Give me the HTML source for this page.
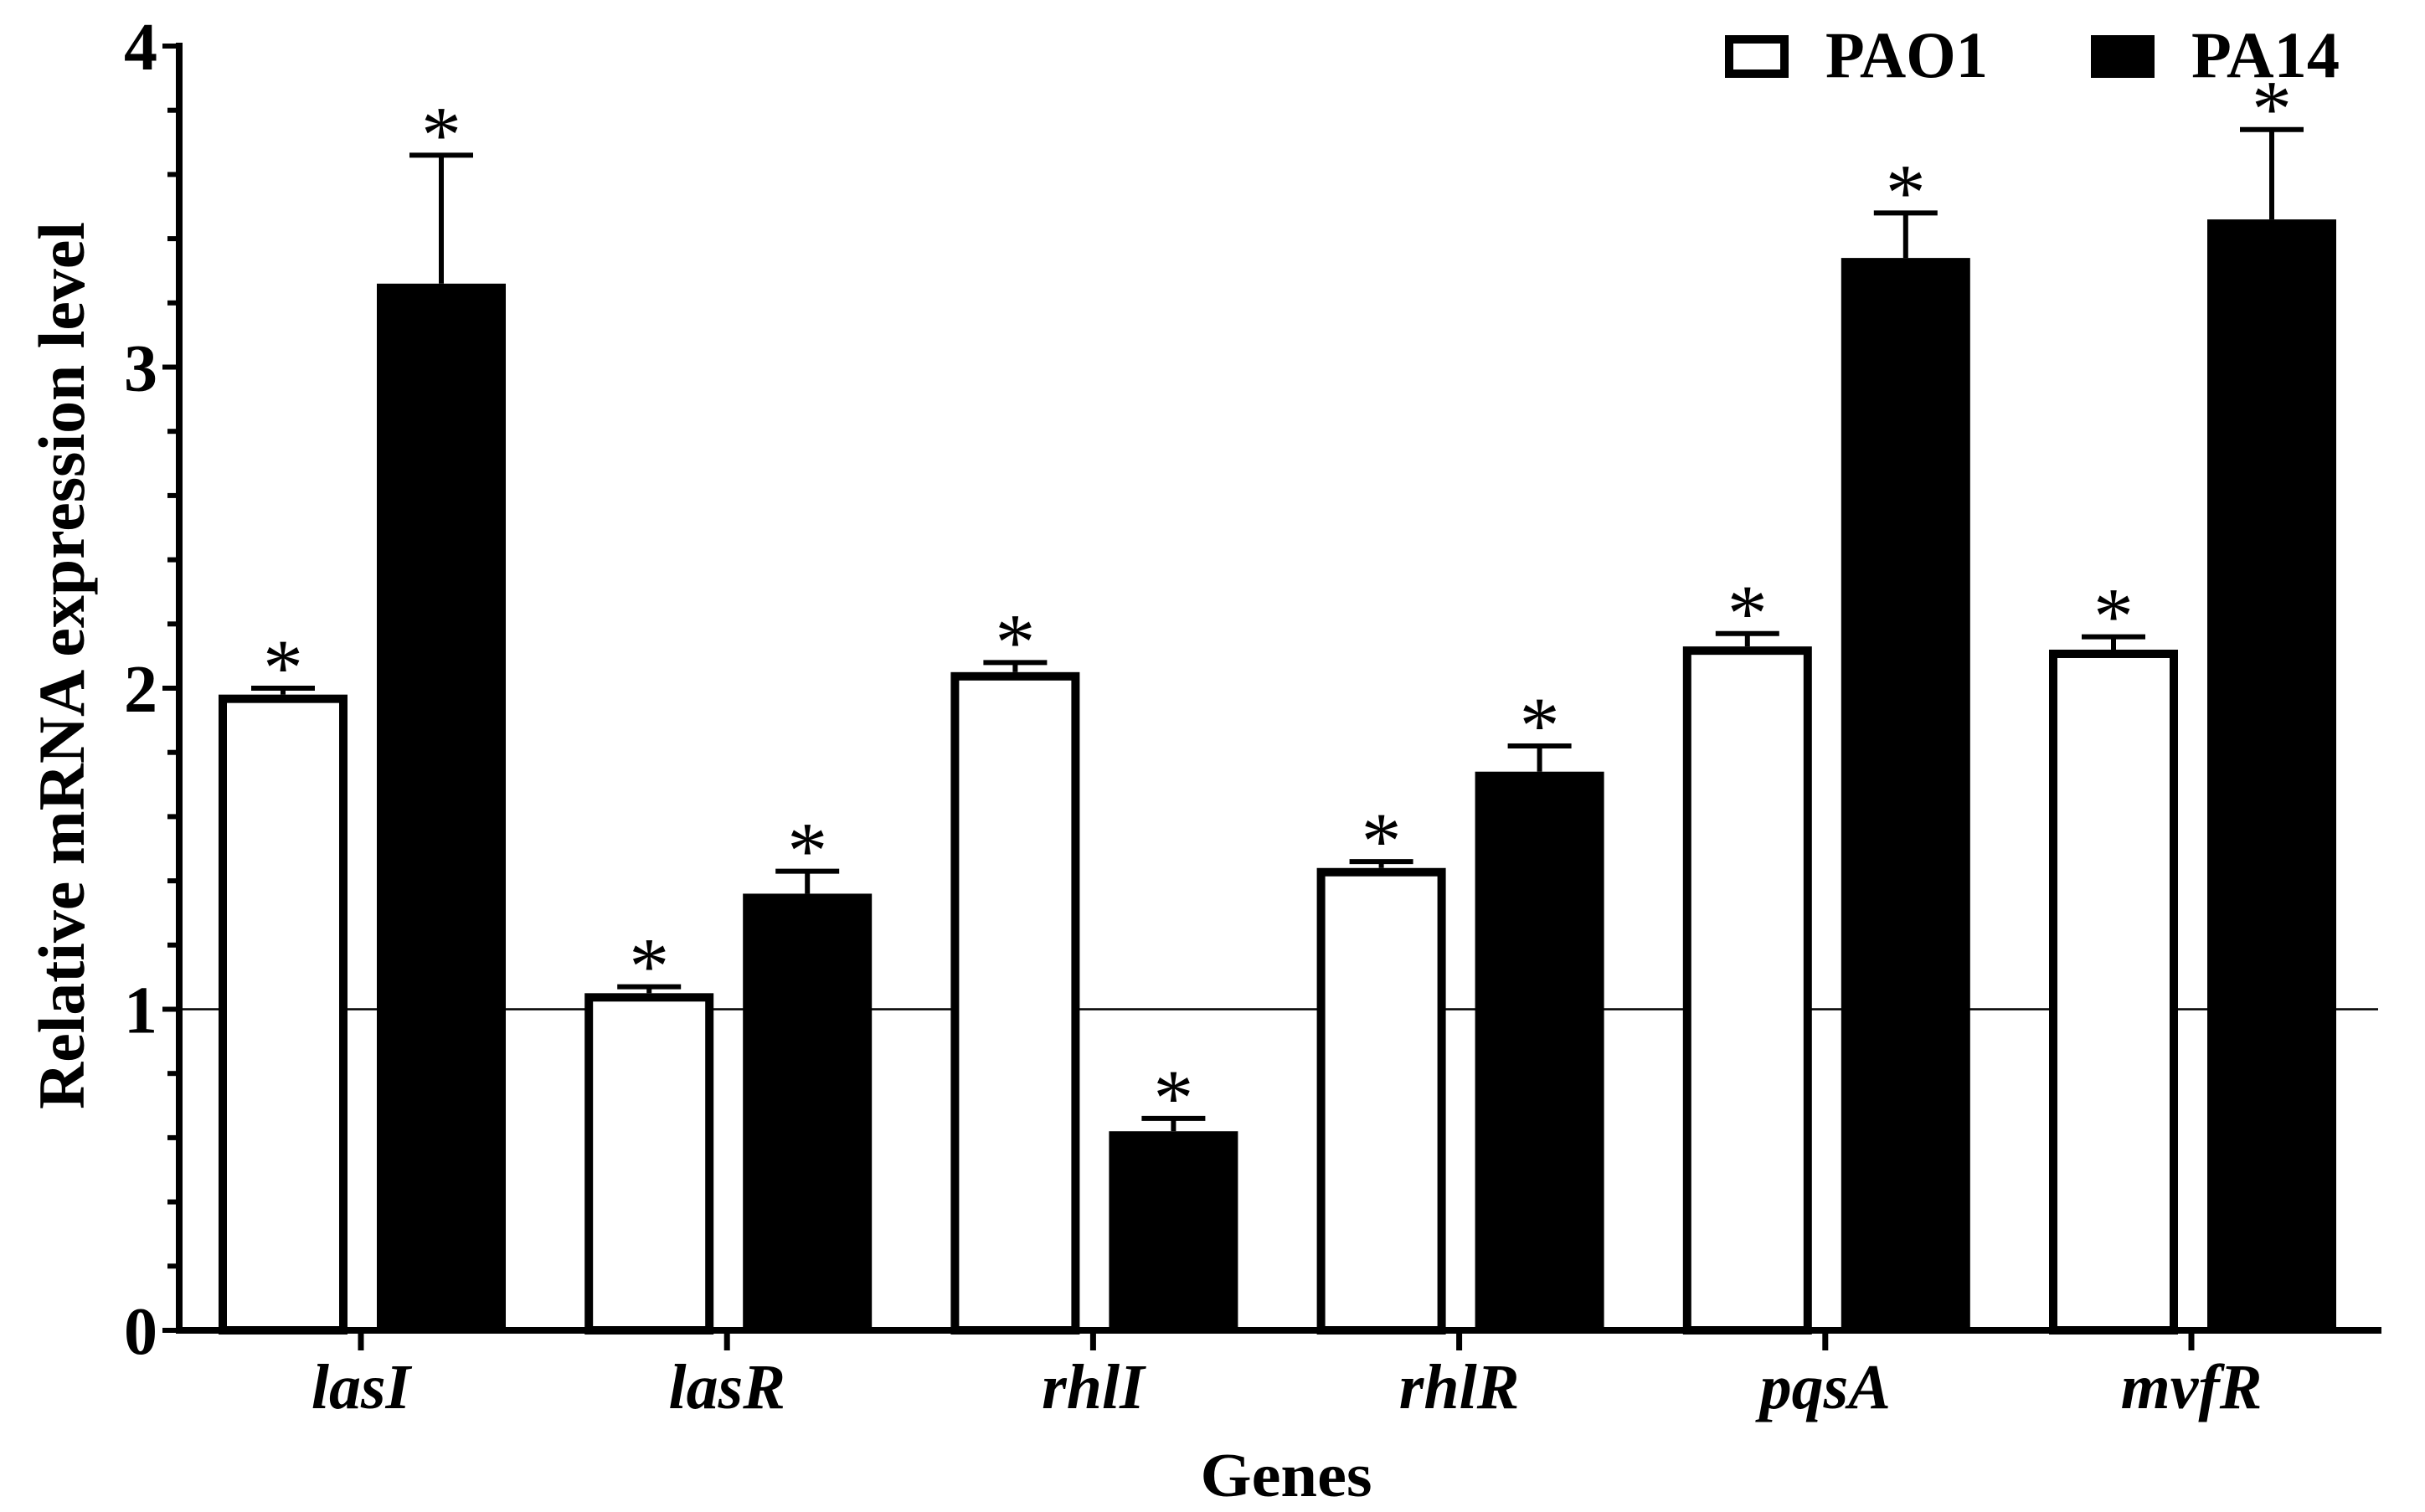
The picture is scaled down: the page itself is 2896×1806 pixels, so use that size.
<!DOCTYPE html>
<html><head><meta charset="utf-8"><style>
html,body{margin:0;padding:0;background:#fff;}
svg{display:block;font-family:"Liberation Serif",serif;font-weight:bold;}
</style></head><body>
<svg id="chart" width="2896" height="1806" viewBox="0 0 2896 1806" xmlns="http://www.w3.org/2000/svg">
<g id="plot"></g>
</svg>
<script>
const genes = ["lasI","lasR","rhlI","rhlR","pqsA","mvfR"];
const pao1 = [1.98, 1.05, 2.05, 1.44, 2.13, 2.12];
const pao1Err = [0.02, 0.02, 0.03, 0.02, 0.04, 0.04];
const pa14 = [3.26, 1.36, 0.62, 1.74, 3.34, 3.46];
const pa14Err = [0.40, 0.07, 0.04, 0.08, 0.14, 0.28];
const yTicks = ["0","1","2","3","4"];

const NS = "http://www.w3.org/2000/svg";
const g = document.getElementById("plot");
const X0 = 214, Y0 = 1589, UNIT = 383.5, SPACING = 437.2;
function yS(v){ return Y0 - v*UNIT; }
function gx(i){ return 261 + i*SPACING; }
function mk(tag, attrs, parent){
  const e = document.createElementNS(NS, tag);
  for (const k in attrs) e.setAttribute(k, attrs[k]);
  (parent||g).appendChild(e);
  return e;
}

let ref = mk("line",{x1:X0,x2:2840,y1:yS(1),y2:yS(1),stroke:"#000","stroke-width":2.5});



const BW = 154, BORDER = 10;
function drawBar(i, v, err, filled, name){
  const x = filled ? gx(i)+189 : gx(i);
  const top = yS(v);
  const erT = yS(v+err);
  const cx = x + BW/2;
  const el = mk("line",{x1:cx,x2:cx,y1:top,y2:erT,stroke:"#000","stroke-width":6});
  
  
  const cap = mk("line",{x1:cx-38,x2:cx+38,y1:erT,y2:erT,stroke:"#000","stroke-width":6});
  
  
  let r;
  if (filled){
    r = mk("rect",{x:x,y:top,width:BW,height:Y0-top,fill:"#000"});
  } else {
    r = mk("rect",{x:x+BORDER/2,y:top+BORDER/2,width:BW-BORDER,height:Y0-top-BORDER/2,fill:"#fff",stroke:"#000","stroke-width":BORDER});
  }
  
  
  const st = mk("text",{x:cx,y:erT+8,"text-anchor":"middle","font-size":96,"font-weight":"normal"});
  st.textContent = "*";
  
  
}
for (let i=0;i<genes.length;i++){
  drawBar(i, pao1[i], pao1Err[i], false, 'bar-pao1-'+genes[i]);
  drawBar(i, pa14[i], pa14Err[i], true, 'bar-pa14-'+genes[i]);
}

let ya = mk("line",{x1:X0,x2:X0,y1:yS(4)-4,y2:Y0+4,stroke:"#000","stroke-width":8});


let xa = mk("line",{x1:X0-4,x2:2844,y1:Y0,y2:Y0,stroke:"#000","stroke-width":8});



for (let k=0;k<=20;k++){
  const v = k*0.2, y = yS(v), major = (k%5===0);
  const t = mk("line",{x1:major?X0-20:X0-14,x2:X0,y1:y,y2:y,stroke:"#000","stroke-width":6});
  
  
}
for (let j=0;j<yTicks.length;j++){
  const t = mk("text",{x:188,y:yS(+yTicks[j])+28,"text-anchor":"end","font-size":80});
  t.textContent = yTicks[j];
  
  
}
for (let i=0;i<genes.length;i++){
  const tx = gx(i)+170;
  const t = mk("line",{x1:tx,x2:tx,y1:Y0,y2:Y0+24,stroke:"#000","stroke-width":7});
  
  
  const l = mk("text",{x:tx,y:1682,"text-anchor":"middle","font-size":76,"font-style":"italic"});
  l.textContent = genes[i];
  
  
}

let xt = mk("text",{x:1536,y:1787,"text-anchor":"middle","font-size":74,textLength:205,lengthAdjust:"spacingAndGlyphs"});
xt.textContent = "Genes";


let yt = mk("text",{x:0,y:0,"text-anchor":"middle","font-size":78,textLength:1060,lengthAdjust:"spacingAndGlyphs",transform:"translate(100,795) rotate(-90)"});
yt.textContent = "Relative mRNA expression level";



let lb1 = mk("rect",{x:2065,y:47,width:66,height:41,fill:"#fff",stroke:"#000","stroke-width":10});


let lt1 = mk("text",{x:2180,y:92,"font-size":78,textLength:194,lengthAdjust:"spacingAndGlyphs"});
lt1.textContent = "PAO1";


let lb2 = mk("rect",{x:2497,y:42,width:76,height:51,fill:"#000"});


let lt2 = mk("text",{x:2617,y:92,"font-size":78,textLength:177,lengthAdjust:"spacingAndGlyphs"});
lt2.textContent = "PA14";


</script>
</body></html>
